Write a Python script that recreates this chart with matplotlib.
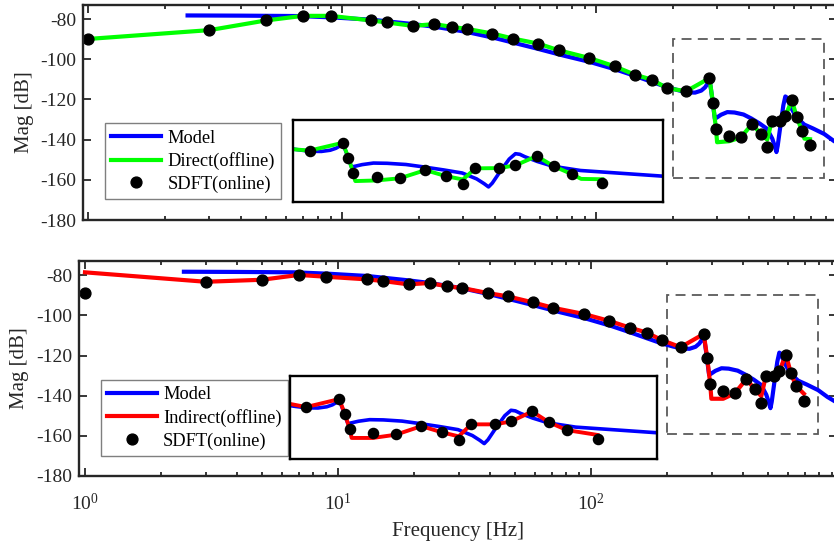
import matplotlib
matplotlib.use('Agg')
import matplotlib.pyplot as plt
from matplotlib.patches import Rectangle

plt.rcParams['font.family'] = ['Liberation Serif', 'DejaVu Serif']
plt.rcParams['mathtext.fontset'] = 'stix'
plt.rcParams['axes.unicode_minus'] = False

# ---- data ----
freq_model = [2.46, 4, 6.8, 9.2, 13, 19, 23, 30.6, 40, 58, 75, 94, 120, 142, 165, 189,
              210, 228, 245, 259, 268, 274, 278, 281, 285, 289, 293, 300, 310, 328, 350,
              380, 408, 440, 470, 493, 505, 512, 518, 531, 545, 555, 562, 570, 590, 615,
              659, 712, 790, 860, 940]
mag_model = [-78.2, -78.3, -78.5, -79.2, -80.3, -82.5, -83.8, -86.3, -89.5, -94.6, -98.3,
             -101.3, -105.2, -108.3, -111.2, -113.8, -115.4, -116.5, -116.6, -115.6, -114.0,
             -112.2, -110.8, -112.5, -118.0, -124.0, -129.6, -128.8, -127.6, -126.3, -126.5,
             -127.5, -129.5, -132.0, -134.6, -139.5, -143.5, -146.2, -143.0, -133.0, -123.0,
             -118.5, -119.0, -121.0, -125.0, -129.0, -132.5, -134.4, -137.2, -140.6, -143.5]

freq_sdft = [1, 3, 5, 7, 9, 13, 15, 19, 23, 27, 31, 39, 47, 59, 71, 94, 118, 142, 166, 190,
             226, 279, 288, 296, 333, 370, 411, 444, 471, 491, 529, 555, 589, 616, 645, 694]
mag_sdft_top = [-89.7, -85.5, -80.7, -78.4, -78.4, -80.7, -81.7, -83.4, -82.5, -83.9, -84.9,
                -87.2, -89.7, -92.2, -95.5, -99.4, -103.5, -107.7, -110.2, -114.4, -115.9,
                -109.4, -121.7, -134.7, -138.0, -138.7, -132.2, -137.2, -143.5, -130.7,
                -130.5, -128.2, -120.5, -128.9, -135.5, -142.9]
mag_sdft_bot = [-88.8, -83.2, -82.2, -79.8, -80.7, -82.0, -82.8, -84.5, -83.8, -85.5, -86.3,
                -88.8, -90.5, -93.5, -96.2, -99.3, -102.7, -106.0, -108.5, -112.2, -115.8,
                -109.2, -121.3, -134.3, -137.7, -138.5, -131.7, -136.8, -143.5, -130.2,
                -130.2, -127.8, -119.5, -128.5, -135.0, -142.5]

freq_direct = [1, 3, 5, 7, 9, 13, 15, 19, 23, 27, 31, 39, 47, 59, 71, 94, 118, 142, 166, 190,
               226, 279, 288, 296, 299, 333, 370, 411, 444, 471, 491, 529, 555, 589, 616, 645,
               660, 694]
mag_direct = [-89.9, -85.5, -80.7, -78.4, -78.4, -80.7, -81.7, -83.4, -82.5, -83.9, -84.9,
              -87.2, -89.7, -92.2, -95.5, -99.4, -103.5, -107.7, -110.2, -114.4, -115.9,
              -109.4, -121.7, -134.7, -141.3, -140.8, -139.0, -132.2, -137.2, -140.0, -130.7,
              -130.5, -128.2, -120.5, -128.9, -135.5, -139.5, -139.8]

freq_indirect = [1, 3, 5, 7, 9, 13, 15, 19, 23, 27, 31, 39, 47, 59, 71, 94, 118, 142, 166, 190,
                 226, 279, 288, 296, 299, 333, 370, 411, 444, 471, 491, 529, 555, 589, 616,
                 645, 694]
mag_indirect = [-78.5, -83.2, -82.2, -79.8, -80.7, -82.0, -82.8, -84.5, -83.8, -85.5, -86.3,
                -88.8, -90.5, -93.5, -96.2, -99.3, -102.7, -106.0, -108.5, -112.2, -115.8,
                -109.2, -121.3, -134.3, -141.5, -141.5, -138.8, -131.7, -136.8, -140.2, -130.2,
                -130.2, -127.8, -119.5, -128.5, -135.0, -139.0]

ZOOM_X = (200, 790)
ZOOM_Y = (-159, -90)

BLUE = '#0000ff'
GREEN = '#00ff00'
RED = '#ff0000'
SPINE = '#262626'

W, H = 834, 547


def px_rect(left, top, right, bottom):
    """pixel box -> figure fraction [x0, y0, w, h]"""
    return [left / W, 1 - bottom / H, (right - left) / W, (bottom - top) / H]


def draw_panel(fig, box, xlim, inset_box, legend_xy, off_f, off_m, off_color, off_label,
               sdft_m, show_xlabel):
    ax = fig.add_axes(px_rect(*box))
    ax.set_xscale('log')
    l_model, = ax.plot(freq_model, mag_model, color=BLUE, lw=3.0, label='Model')
    l_off, = ax.plot(off_f, off_m, color=off_color, lw=3.0, label=off_label)
    l_dot, = ax.plot(freq_sdft, sdft_m, 'o', color='black', ms=7.8, label='SDFT(online)')
    ax.add_patch(Rectangle((ZOOM_X[0], ZOOM_Y[0]), ZOOM_X[1] - ZOOM_X[0],
                           ZOOM_Y[1] - ZOOM_Y[0], fill=False, ec='#5a5a5a', lw=1.3,
                           ls=(0, (5.5, 3.5))))
    ax.set_xlim(*xlim)
    ax.set_ylim(-180, -72.85)
    ax.set_yticks([-180, -160, -140, -120, -100, -80])
    ax.tick_params(which='both', direction='in', top=True, right=True, colors=SPINE,
                   labelcolor='#262626', labelsize=14, width=1.3)
    ax.tick_params(which='major', length=5.5, pad=5)
    ax.tick_params(axis='x', which='major', pad=12)
    ax.tick_params(which='minor', length=2.8)
    for s in ax.spines.values():
        s.set_linewidth(1.7)
        s.set_color(SPINE)
    if show_xlabel:
        ax.set_xlabel('Frequency [Hz]', fontsize=15, color='#262626', labelpad=6)
    else:
        ax.tick_params(labelbottom=False)
    ax.set_ylabel('Mag [dB]', fontsize=15, color='#262626')
    ax.yaxis.set_label_coords(-0.066, 0.5)

    leg = ax.legend(handles=[l_model, l_off, l_dot], loc='lower left',
                    bbox_to_anchor=(legend_xy[0] / W, 1 - legend_xy[1] / H),
                    bbox_transform=fig.transFigure, borderaxespad=0, fontsize=13.2,
                    fancybox=False, edgecolor='#7f7f7f', framealpha=1, numpoints=1,
                    handlelength=2.7, handletextpad=0.35, labelspacing=0.3, borderpad=0.35)
    leg.get_frame().set_linewidth(1.0)

    # zoomed inset of the resonance region (linear frequency axis)
    axi = fig.add_axes(px_rect(*inset_box))
    axi.plot(freq_model, mag_model, color=BLUE, lw=2.6)
    axi.plot(off_f, off_m, color=off_color, lw=2.8)
    axi.plot(freq_sdft, sdft_m, 'o', color='black', ms=7.3)
    axi.set_xlim(*ZOOM_X)
    axi.set_ylim(*ZOOM_Y)
    axi.set_xticks([])
    axi.set_yticks([])
    for s in axi.spines.values():
        s.set_linewidth(1.7)
        s.set_color('black')
    return ax


fig = plt.figure(figsize=(W / 100, H / 100), dpi=100)

draw_panel(fig, (83.3, 4.7, 837, 220), (0.9557, 886.6), (293.3, 119.5, 662.5, 202.3),
           (105, 199.3), freq_direct, mag_direct, GREEN, 'Direct(offline)',
           mag_sdft_top, False)
draw_panel(fig, (79, 261, 837, 476), (0.9469, 938.2), (290, 376, 657.3, 459),
           (100.7, 456), freq_indirect, mag_indirect, RED, 'Indirect(offline)',
           mag_sdft_bot, True)

fig.savefig('out.png', dpi=100)
